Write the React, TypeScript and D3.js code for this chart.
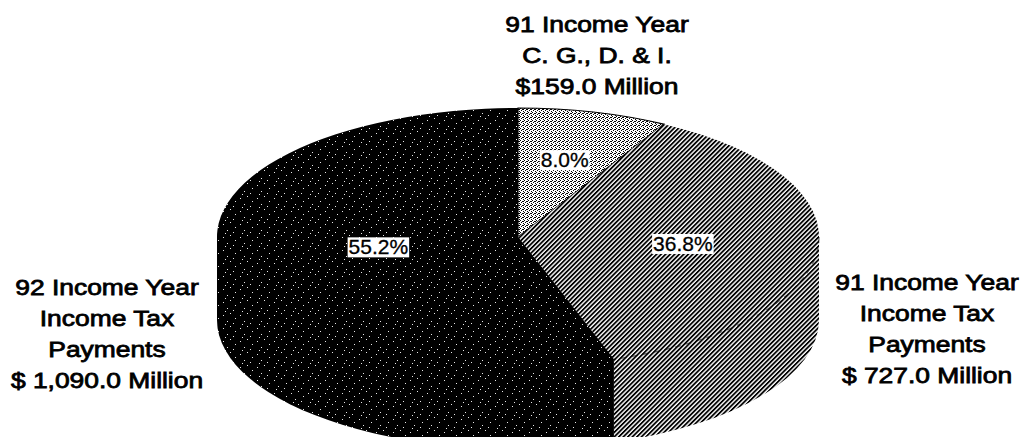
import React, { useEffect, useRef } from "react";
import * as d3 from "d3";

// slice values (millions of dollars), clockwise from 12 o'clock
const categories = ["91 C. G., D. & I.", "91 Income Tax Payments", "92 Income Tax Payments"];
const values = [159.0, 727.0, 1090.0];
const labelLines = [
    ["91 Income Year", "C. G., D. & I.", "$159.0 Million"],
    ["91 Income Year", "Income Tax", "Payments", "$ 727.0 Million"],
    ["92 Income Year", "Income Tax", "Payments", "$ 1,090.0 Million"],
];

var W = 1030, H = 437;
var cx = 518, cy = 237, rx = 301, ry = 129, depth = 83;
var fills = ["url(#dots)", "url(#hatch)", "url(#speckle)"];
var pctRadius = [0.62, 0.55, 0.47];
var labelAnchor = [
    { x: 597, y: 32 },
    { x: 927, y: 290 },
    { x: 107, y: 295 },
];
var lineH = 31;

function pt(a: number, dy = 0): [number, number] {
    return [cx + rx * Math.sin(a), cy - ry * Math.cos(a) + dy];
}

function topPath(a0: number, a1: number) {
    var p0 = pt(a0), p1 = pt(a1);
    var large = a1 - a0 > Math.PI ? 1 : 0;
    return `M${cx},${cy}L${p0[0]},${p0[1]}A${rx},${ry} 0 ${large} 1 ${p1[0]},${p1[1]}Z`;
}

// front wall of a slice, only the part facing the viewer; it reaches up to the centre
// so no seam shows against the top face
function sidePath(a0: number, a1: number) {
    var s = Math.max(a0, Math.PI / 2), e = Math.min(a1, 3 * Math.PI / 2);
    if (e <= s) return null;
    var large = e - s > Math.PI ? 1 : 0;
    var t0 = pt(s), b0 = pt(s, depth), b1 = pt(e, depth), t1 = pt(e);
    return `M${cx},${cy}L${t0[0]},${t0[1]}L${b0[0]},${b0[1]}` +
        `A${rx},${ry} 0 ${large} 1 ${b1[0]},${b1[1]}` +
        `L${t1[0]},${t1[1]}Z`;
}

function App() {
    const ref = useRef<SVGSVGElement>(null);

    useEffect(() => {
        chart();
    }, []);

    return (
        <svg ref={ref} width={W} height={H}
            style={{ position: "absolute", left: 0, top: 0, background: "#fff" }}></svg>
    );

    function chart() {
        var svg = d3.select(ref.current);
        svg.selectAll("*").remove();

        // textures
        var defs = svg.append("defs");
        var sp = defs.append("pattern").attr("id", "speckle")
            .attr("width", 17).attr("height", 13).attr("patternUnits", "userSpaceOnUse");
        sp.append("rect").attr("width", 17).attr("height", 13).attr("fill", "#000");
        [[2, 3], [9, 1], [14, 6], [6, 9], [12, 11], [4, 12]].forEach(p => {
            sp.append("rect").attr("x", p[0]).attr("y", p[1]).attr("width", 1).attr("height", 1).attr("fill", "#e8e8e8");
        });

        var ht = defs.append("pattern").attr("id", "hatch")
            .attr("width", 3.2).attr("height", 3.2).attr("patternUnits", "userSpaceOnUse")
            .attr("patternTransform", "rotate(45)");
        ht.append("rect").attr("width", 3.2).attr("height", 3.2).attr("fill", "#fff");
        ht.append("rect").attr("width", 1.8).attr("height", 3.2).attr("fill", "#000");

        var dt = defs.append("pattern").attr("id", "dots")
            .attr("width", 4).attr("height", 4).attr("patternUnits", "userSpaceOnUse");
        dt.append("rect").attr("width", 4).attr("height", 4).attr("fill", "#fff");
        [[0, 0], [2, 1], [1, 2], [3, 3], [3, 1]].forEach(p => {
            dt.append("rect").attr("x", p[0]).attr("y", p[1]).attr("width", 1).attr("height", 1).attr("fill", "#000");
        });

        var pie = d3.pie<number>().sort(null).value(d => d);
        var arcs = pie(values);
        var total = d3.sum(values);

        // sides first
        svg.append("g").selectAll("path")
            .data(arcs)
            .enter()
            .filter(d => sidePath(d.startAngle, d.endAngle) !== null)
            .append("path")
            .attr("d", d => sidePath(d.startAngle, d.endAngle)!)
            .attr("fill", d => fills[d.index]);

        // top faces
        svg.append("g").selectAll("path")
            .data(arcs)
            .enter()
            .append("path")
            .attr("d", d => topPath(d.startAngle, d.endAngle))
            .attr("fill", d => fills[d.index])
            .attr("stroke", d => d.index === 0 ? "#000" : "none")
            .attr("stroke-width", 1.2);

        // faint front rim over the hatched side
        var h = arcs[1];
        var r0 = pt(Math.PI / 2), r1 = pt(h.endAngle);
        svg.append("path")
            .attr("d", `M${r0[0]},${r0[1]}A${rx},${ry} 0 0 1 ${r1[0]},${r1[1]}`)
            .attr("fill", "none")
            .attr("stroke", "#000")
            .attr("stroke-width", 1.3)
            .attr("stroke-dasharray", "6 5")
            .attr("opacity", 0.55);

        // percentage boxes
        var fmt = d3.format(".1%");
        var pg = svg.append("g").selectAll("g")
            .data(arcs)
            .enter()
            .append("g")
            .attr("transform", d => {
                var m = (d.startAngle + d.endAngle) / 2;
                var k = pctRadius[d.index];
                return `translate(${cx + rx * k * Math.sin(m)},${cy - ry * k * Math.cos(m)})`;
            });
        pg.each(function (d) {
            var g = d3.select(this);
            var t = g.append("text")
                .text(fmt(d.value / total))
                .attr("text-anchor", "middle")
                .attr("dy", "0.36em")
                .attr("font-family", "'Liberation Sans', Arial, sans-serif")
                .attr("font-size", 21)
                .attr("stroke", "#000")
                .attr("stroke-width", 0.3)
                .attr("fill", "#000");
            var bb = (t.node() as SVGTextElement).getBBox();
            g.insert("rect", "text")
                .attr("x", bb.x - 1).attr("y", bb.y + 2)
                .attr("width", bb.width + 2).attr("height", bb.height - 3)
                .attr("fill", "#fff");
        });

        // category labels
        labelLines.forEach((lines, i) => {
            var a = labelAnchor[i];
            var t = svg.append("text")
                .attr("transform", `translate(${a.x},${a.y}) scale(1.2,1)`)
                .attr("text-anchor", "middle")
                .attr("font-family", "'Liberation Sans', Arial, sans-serif")
                .attr("font-size", 22)
                .attr("stroke", "#000")
                .attr("stroke-width", 0.8)
                .attr("fill", "#000")
                .attr("aria-label", categories[i]);
            lines.forEach((l, j) => {
                t.append("tspan").attr("x", 0).attr("y", j * lineH).text(l);
            });
        });
    }
}

export default App;
